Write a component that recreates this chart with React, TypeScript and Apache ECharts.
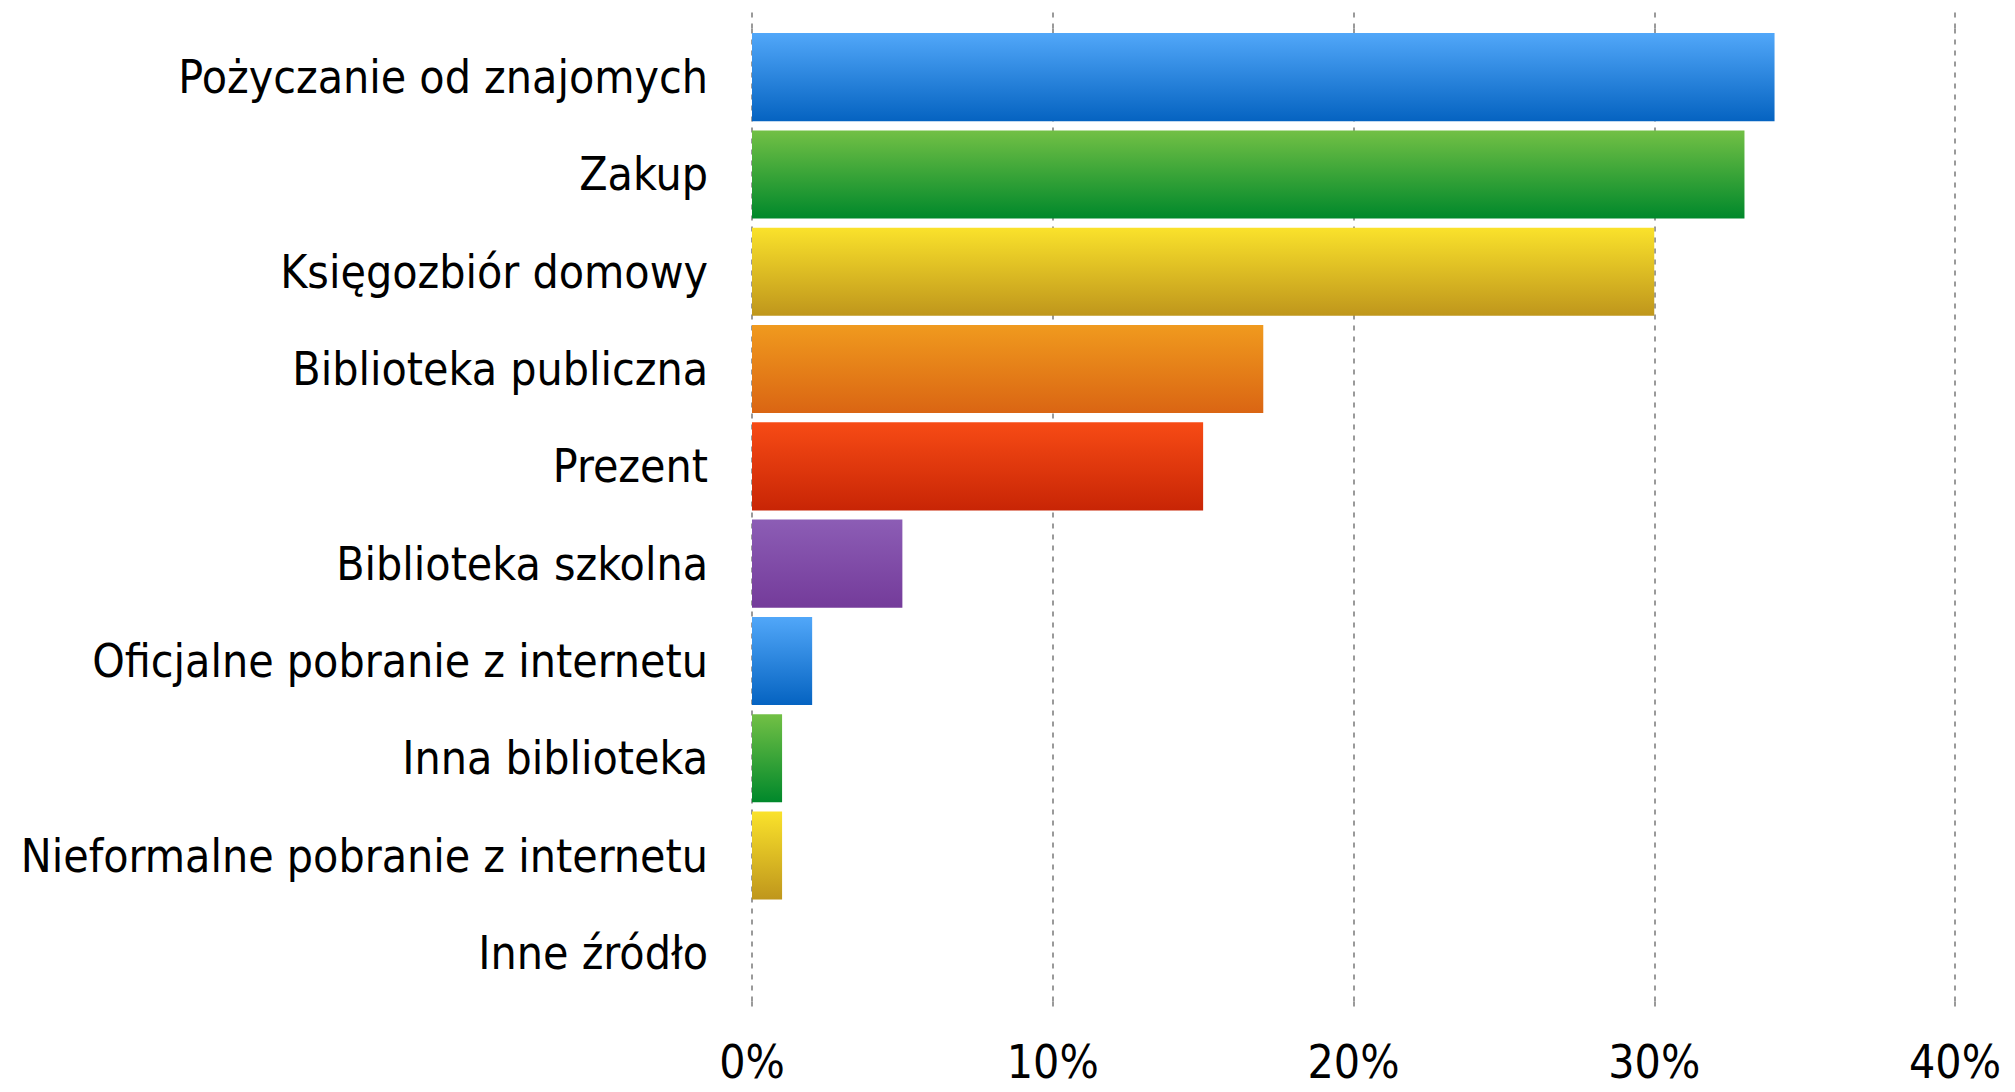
import React, { useEffect, useRef } from "react";
import * as echarts from "echarts";

const categories = [
  "Pożyczanie od znajomych",
  "Zakup",
  "Księgozbiór domowy",
  "Biblioteka publiczna",
  "Prezent",
  "Biblioteka szkolna",
  "Oficjalne pobranie z internetu",
  "Inna biblioteka",
  "Nieformalne pobranie z internetu",
  "Inne źródło",
];
const values = [34, 33, 30, 17, 15, 5, 2, 1, 1, 0];
const tickValues = [0, 10, 20, 30, 40];
const gradientTops = ["#51A7F9", "#72C045", "#FAE22B", "#F09A1E", "#F74B15", "#8C5DB5", "#51A7F9", "#72C045", "#FAE22B", "#F09A1E"];
const gradientBottoms = ["#0563C1", "#00882B", "#BF961C", "#DA6513", "#C82505", "#743B9A", "#0563C1", "#00882B", "#BF961C", "#DA6513"];

const FONT = "'DejaVu Sans Condensed', 'DejaVu Sans', sans-serif";

export default function App() {
  const ref = useRef<HTMLDivElement>(null);
  useEffect(() => {
    if (!ref.current) return;
    const chart = echarts.init(ref.current, null, { renderer: "svg" });
    const gridLine = { color: "#9a9a9a", width: 2, type: [5, 6] as any };
    chart.setOption({
      animation: false,
      backgroundColor: "#ffffff",
      grid: { left: 752, right: 60, top: 28.5, bottom: 90.5, containLabel: false, outerBoundsMode: "none" },
      xAxis: [
        {
          type: "value",
          min: tickValues[0],
          max: tickValues[tickValues.length - 1],
          interval: 10,
          position: "bottom",
          axisLine: { show: false },
          axisTick: { show: true, inside: false, length: 8, lineStyle: gridLine },
          splitLine: { show: true, lineStyle: gridLine },
          axisLabel: {
            formatter: (v: number) => v + "%",
            fontFamily: FONT,
            fontSize: 46,
            color: "#000",
            margin: 40,
            lineHeight: 40,
          },
        },
        {
          type: "value",
          min: tickValues[0],
          max: tickValues[tickValues.length - 1],
          interval: 10,
          position: "top",
          axisLine: { show: false },
          axisTick: { show: true, inside: false, length: 18, lineStyle: gridLine },
          splitLine: { show: false },
          axisLabel: { show: false },
        },
      ],
      yAxis: {
        type: "category",
        data: categories,
        inverse: true,
        axisLine: { show: false },
        axisTick: { show: false },
        axisLabel: {
          fontFamily: FONT,
          fontSize: 46,
          color: "#000",
          margin: 44,
        },
      },
      series: [
        {
          type: "bar",
          xAxisIndex: 0,
          barCategoryGap: "9.5%",
          data: values.map((v, i) => ({
            value: v,
            itemStyle: {
              color: new echarts.graphic.LinearGradient(0, 0, 0, 1, [
                { offset: 0, color: gradientTops[i] },
                { offset: 1, color: gradientBottoms[i] },
              ]),
            },
          })),
        },
      ],
    });
    return () => chart.dispose();
  }, []);
  return (
    <div
      ref={ref}
      style={{ position: "absolute", left: 0, top: 0, width: 2015, height: 1092 }}
    />
  );
}
